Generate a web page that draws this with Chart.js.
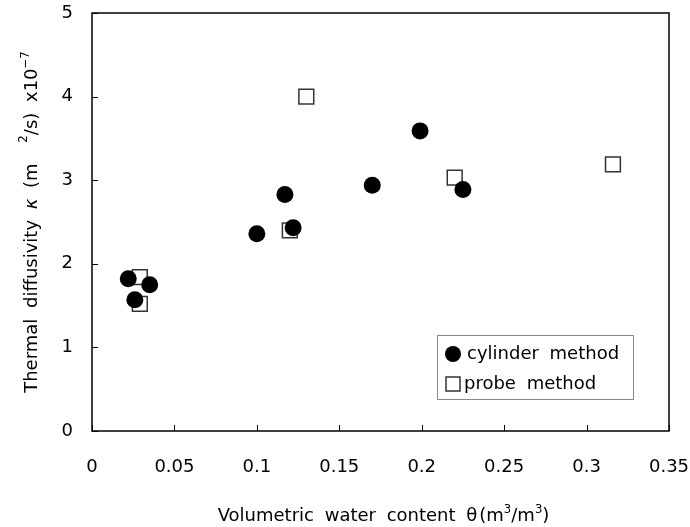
<!DOCTYPE html>
<html>
<head>
<meta charset="utf-8">
<script src="https://cdn.jsdelivr.net/npm/chart.js@4/dist/chart.umd.min.js"></script>
<style>
html,body{margin:0;padding:0;background:#fff;}
#wrap{width:690px;height:527px;position:relative;}
</style>
</head>
<body>
<div id="wrap"><canvas id="c" width="690" height="527"></canvas></div>
<script>
// ---- data ----
const cylinderX = [0.022, 0.026, 0.035, 0.100, 0.117, 0.122, 0.170, 0.199, 0.225];
const cylinderY = [1.82, 1.57, 1.75, 2.36, 2.83, 2.43, 2.94, 3.59, 2.89];
const probeX = [0.029, 0.029, 0.120, 0.130, 0.220, 0.316];
const probeY = [1.84, 1.52, 2.40, 4.00, 3.03, 3.19];
const xTicks = [0, 0.05, 0.1, 0.15, 0.2, 0.25, 0.3, 0.35];
const yTicks = [0, 1, 2, 3, 4, 5];
const seriesNames = ['cylinder method', 'probe method'];

const FONT = '"DejaVu Sans", sans-serif';
const FS = 18;
const WS = 5; // extra word spacing

function toPts(xs, ys){ return xs.map((x,i)=>({x:x, y:ys[i]})); }

function spaced(ctx, t, x, y, draw){
  const parts = t.split(' ');
  let cx = x;
  parts.forEach((p,i)=>{
    if (draw && p) ctx.fillText(p, cx, y);
    cx += ctx.measureText(p).width;
    if (i < parts.length-1) cx += ctx.measureText(' ').width + WS;
  });
  return cx - x;
}

function drawRuns(ctx, runs, size, draw){
  let x = 0;
  runs.forEach(r=>{
    const s = r.sup ? size*0.65 : size;
    ctx.font = (r.italic?'italic ':'') + s + 'px ' + FONT;
    const dy = r.sup ? -size*(r.up||0.42) : 0;
    x += spaced(ctx, r.t, x, dy, draw) + (r.gap||0);
  });
  return x;
}

const overlay = {
  id:'overlay',
  afterDraw(chart){
    const ctx = chart.ctx, a = chart.chartArea;
    const xs = chart.scales.x, ys = chart.scales.y;
    ctx.save();
    ctx.strokeStyle = '#000'; ctx.lineWidth = 1.5;
    ctx.strokeRect(a.left, a.top, a.right-a.left, a.bottom-a.top);
    ctx.lineWidth = 1;
    xTicks.forEach(v=>{
      const px = Math.round(xs.getPixelForValue(v))+0.5;
      ctx.beginPath(); ctx.moveTo(px, a.bottom); ctx.lineTo(px, a.bottom-6); ctx.stroke();
    });
    yTicks.forEach(v=>{
      const py = Math.round(ys.getPixelForValue(v))+0.5;
      ctx.beginPath(); ctx.moveTo(a.left, py); ctx.lineTo(a.left+6, py); ctx.stroke();
    });
    ctx.fillStyle = '#000'; ctx.textBaseline = 'alphabetic'; ctx.textAlign = 'left';
    // x title
    const xr = [{t:'Volumetric water content θ',gap:2},{t:'(m'},{t:'3',sup:true},{t:'/m'},{t:'3',sup:true},{t:')'}];
    const wx = drawRuns(ctx, xr, FS, false);
    ctx.save();
    ctx.translate((a.left+a.right)/2 - wx/2 + 3, 521);
    drawRuns(ctx, xr, FS, true);
    ctx.restore();
    // y title
    const yr = [{t:'Thermal diffusivity '},{t:'κ',italic:true},{t:' (m ',gap:10},{t:'2',sup:true,up:0.55},{t:'/s) x10'},{t:'−7',sup:true}];
    const wy = drawRuns(ctx, yr, FS, false);
    ctx.save();
    ctx.translate(37, (a.top+a.bottom)/2 + wy/2);
    ctx.rotate(-Math.PI/2);
    drawRuns(ctx, yr, FS, true);
    ctx.restore();
    // legend
    const lx = 437, ly = 335, lw = 196, lh = 64;
    ctx.fillStyle = '#fff'; ctx.fillRect(lx, ly, lw, lh);
    ctx.strokeStyle = '#888'; ctx.lineWidth = 1;
    ctx.strokeRect(lx+0.5, ly+0.5, lw, lh);
    ctx.font = FS + 'px ' + FONT; ctx.fillStyle = '#000'; ctx.textBaseline = 'middle';
    const ds = chart.data.datasets;
    ctx.beginPath(); ctx.arc(453, 354, 8, 0, Math.PI*2); ctx.fill();
    spaced(ctx, ds[0].label, 467, 354, true);
    ctx.strokeStyle = '#333'; ctx.lineWidth = 1.5;
    ctx.strokeRect(446, 377, 14, 14);
    spaced(ctx, ds[1].label, 464, 384, true);
    ctx.restore();
  }
};

new Chart(document.getElementById('c'), {
  type: 'scatter',
  data: {
    datasets: [
      { label: seriesNames[0], data: toPts(cylinderX, cylinderY), pointStyle:'circle', pointRadius: 8.5, pointHoverRadius: 8.5,
        backgroundColor:'#000', borderColor:'#000', borderWidth:0 },
      { label: seriesNames[1], data: toPts(probeX, probeY), pointStyle:'rect', pointRadius: 10.5, pointHoverRadius: 10.5,
        backgroundColor:'#fff', borderColor:'#333', borderWidth:1.5 }
    ]
  },
  options: {
    responsive:false, animation:false,
    layout:{ padding:{ left:0, top:13, right:21, bottom:0 } },
    plugins:{ legend:{display:false}, tooltip:{enabled:false} },
    scales:{
      x:{ type:'linear', min:0, max:0.35,
        afterBuildTicks(s){ s.ticks = xTicks.map(v=>({value:v})); },
        afterFit(s){ s.height = 96; s.paddingLeft = 0; s.paddingRight = 0; },
        grid:{ display:false, drawTicks:false }, border:{display:false},
        ticks:{ padding:26, color:'#000', font:{family:FONT, size:FS}, callback:(v)=>String(v) } },
      y:{ type:'linear', min:0, max:5,
        afterBuildTicks(s){ s.ticks = yTicks.map(v=>({value:v})); },
        afterFit(s){ s.width = 92; s.paddingTop = 0; s.paddingBottom = 0; },
        grid:{ display:false, drawTicks:false }, border:{display:false},
        ticks:{ padding:19, color:'#000', font:{family:FONT, size:FS}, callback:(v)=>String(v) } }
    }
  },
  plugins:[overlay]
});
</script>
</body>
</html>
